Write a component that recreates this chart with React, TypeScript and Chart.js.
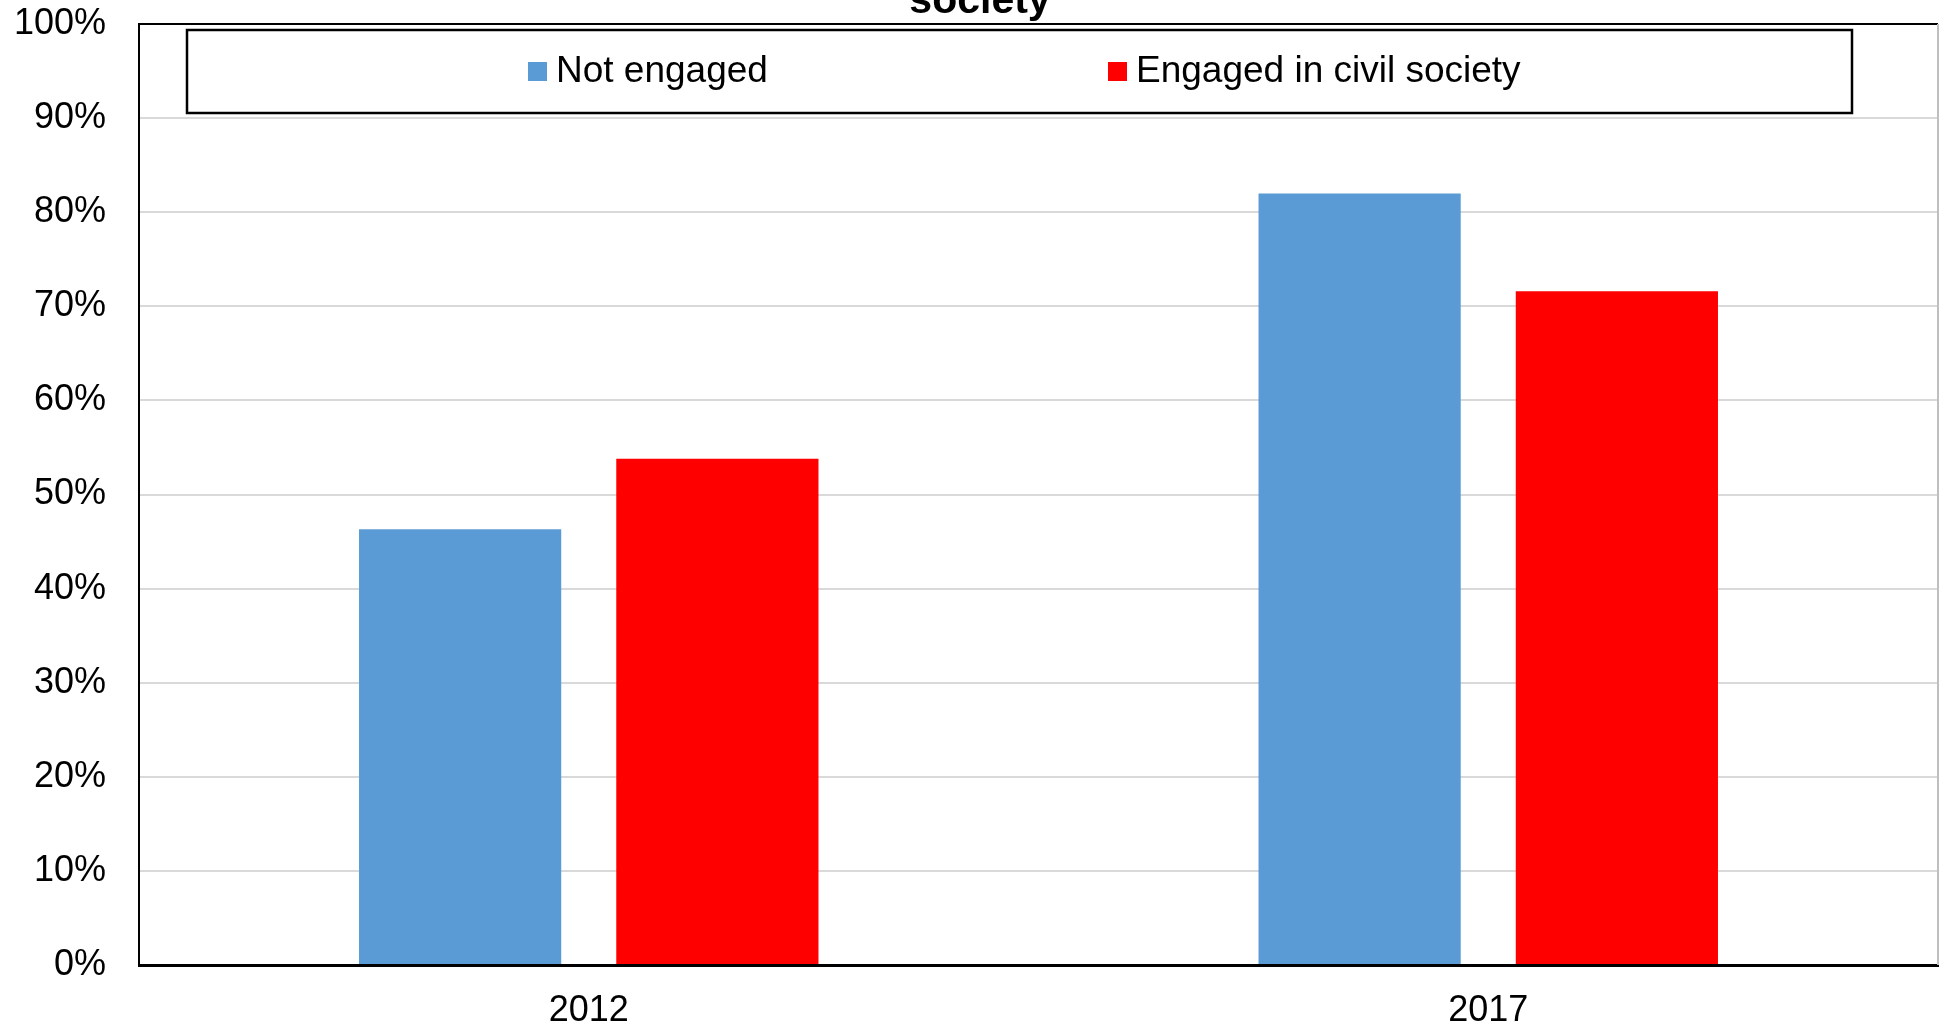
import React, { useEffect, useRef } from "react";
import { Chart, registerables } from "chart.js";

Chart.register(...registerables);

const categories = ["2012", "2017"];
const notEngaged = [46.3, 82.0];
const engagedCivil = [53.8, 71.6];
const seriesLabels = ["Not engaged", "Engaged in civil society"];
const seriesColors = ["#5B9BD5", "#FF0000"];
const titleText = "society";

const FONT = "'Liberation Sans', Arial, sans-serif";

const overlayPlugin = {
  id: "overlay",
  afterDatasetsDraw(chart: any) {
    const { ctx, chartArea } = chart;
    ctx.save();
    // right border
    ctx.strokeStyle = "#bfbfbf";
    ctx.lineWidth = 2;
    ctx.beginPath();
    ctx.moveTo(chartArea.right, chartArea.top);
    ctx.lineTo(chartArea.right, chartArea.bottom);
    ctx.stroke();
    // legend box
    const bx = 187, by = 30, bw = 1665, bh = 83;
    ctx.fillStyle = "#ffffff";
    ctx.fillRect(bx, by, bw, bh);
    ctx.strokeStyle = "#000";
    ctx.lineWidth = 2.5;
    ctx.strokeRect(bx, by, bw, bh);
    const itemX = [528, 1108];
    ctx.font = `37px ${FONT}`;
    ctx.textBaseline = "middle";
    ctx.textAlign = "left";
    chart.data.datasets.forEach((ds: any, i: number) => {
      ctx.fillStyle = ds.backgroundColor;
      ctx.fillRect(itemX[i], 62, 19, 19);
      ctx.fillStyle = "#000";
      ctx.fillText(ds.label, itemX[i] + 28, 72);
    });
    // title (second line, partially cut)
    ctx.font = `bold 41px ${FONT}`;
    ctx.textAlign = "center";
    ctx.textBaseline = "alphabetic";
    ctx.fillStyle = "#000";
    ctx.fillText(titleText, 980, 13);
    ctx.restore();
  },
};

export default function App() {
  const ref = useRef<HTMLCanvasElement | null>(null);
  useEffect(() => {
    if (!ref.current) return;
    const chart = new Chart(ref.current, {
      type: "bar",
      data: {
        labels: categories,
        datasets: [
          { label: seriesLabels[0], data: notEngaged, backgroundColor: seriesColors[0] },
          { label: seriesLabels[1], data: engagedCivil, backgroundColor: seriesColors[1] },
        ],
      },
      options: {
        animation: false,
        responsive: true,
        maintainAspectRatio: false,
        layout: { padding: { top: 24, right: 1, left: 0, bottom: 0 } },
        plugins: { legend: { display: false }, tooltip: { enabled: false }, title: { display: false } },
        datasets: { bar: { categoryPercentage: 0.572, barPercentage: 0.786 } },
        scales: {
          x: {
            grid: { display: false, drawTicks: false },
            border: { color: "#000", width: 3 },
            ticks: { color: "#000", font: { family: FONT, size: 36 }, padding: 24 },
            afterFit(scale: any) { scale.height = 60; scale.paddingLeft = 0; scale.paddingRight = 0; },
          },
          y: {
            min: 0,
            max: 100,
            ticks: {
              stepSize: 10,
              color: "#000",
              font: { family: FONT, size: 36 },
              padding: 33,
              callback: (v: any) => v + "%",
            },
            grid: {
              drawTicks: false,
              lineWidth: 2,
              color: (c: any) => (c.tick && c.tick.value === 100 ? "#000" : "#d9d9d9"),
            },
            border: { color: "#000", width: 2 },
            afterFit(scale: any) { scale.width = 139; scale.paddingTop = 0; scale.paddingBottom = 0; },
          },
        },
      },
      plugins: [overlayPlugin],
    });
    return () => chart.destroy();
  }, []);
  return (
    <div style={{ position: "fixed", left: 0, top: 0, width: "1939px", height: "1025px", background: "#fff" }}>
      <canvas ref={ref} />
    </div>
  );
}
